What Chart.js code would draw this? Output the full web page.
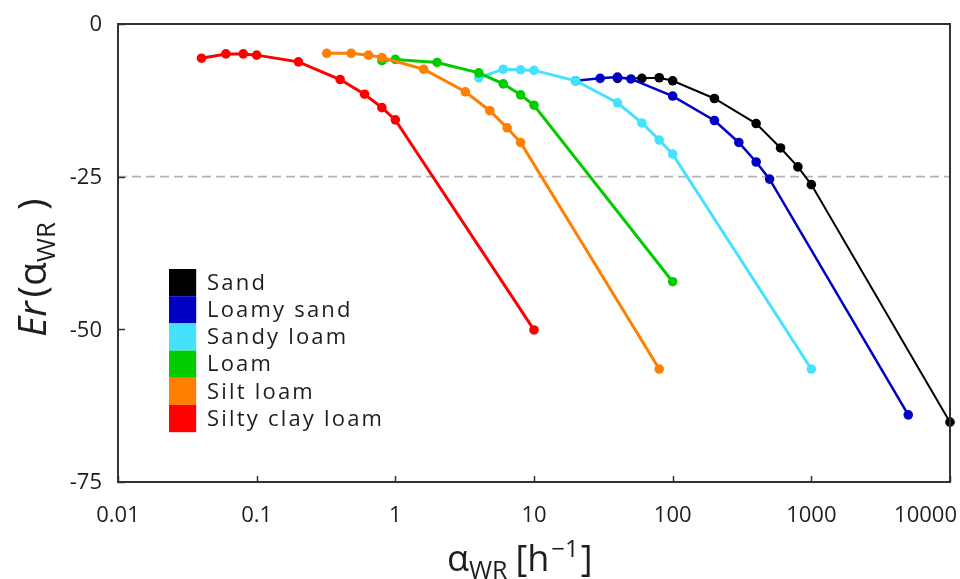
<!DOCTYPE html>
<html lang="en">
<head>
  <meta charset="UTF-8" />
  <title>Er vs alpha WR</title>
  <script src="https://cdn.jsdelivr.net/npm/chart.js"></script>
  <style>
    html, body { margin: 0; padding: 0; background: #fff; }
    canvas { display: block; }
  </style>
</head>
<body>
  <canvas id="erChart" width="960" height="579"></canvas>

  <script>
    // Valeurs (alpha_WR en h^-1, Er en %)
    const soilNames = ['Sand', 'Loamy sand', 'Sandy loam', 'Loam', 'Silt loam', 'Silty clay loam'];
    const soilColors = ['#000000', '#0000c4', '#44e2ff', '#00cc00', '#ff8000', '#ff0000'];

    const sandX = [40, 60, 80, 100, 200, 400, 600, 800, 1000, 10000];
    const sandY = [-8.9, -8.9, -8.8, -9.3, -12.2, -16.3, -20.3, -23.4, -26.3, -65.2];

    const loamySandX = [20, 30, 40, 50, 100, 200, 300, 400, 500, 5000];
    const loamySandY = [-9.3, -8.9, -8.7, -9.0, -11.8, -15.8, -19.4, -22.6, -25.4, -64.0];

    const sandyLoamX = [4, 6, 8, 10, 20, 40, 60, 80, 100, 1000];
    const sandyLoamY = [-8.8, -7.4, -7.5, -7.6, -9.3, -12.9, -16.2, -19.0, -21.3, -56.5];

    const loamX = [0.8, 1, 2, 4, 6, 8, 10, 100];
    const loamY = [-6.0, -5.8, -6.3, -8.0, -9.8, -11.6, -13.3, -42.2];

    const siltLoamX = [0.32, 0.48, 0.64, 0.8, 1.6, 3.2, 4.8, 6.4, 8, 80];
    const siltLoamY = [-4.8, -4.8, -5.1, -5.5, -7.4, -11.1, -14.2, -17.0, -19.4, -56.5];

    const siltyClayLoamX = [0.04, 0.06, 0.08, 0.1, 0.2, 0.4, 0.6, 0.8, 1, 10];
    const siltyClayLoamY = [-5.6, -4.9, -4.9, -5.1, -6.2, -9.1, -11.5, -13.7, -15.7, -50.1];

    const xTicks = [0.01, 0.1, 1, 10, 100, 1000, 10000];
    const xTickLabels = ['0.01', '0.1', '1', '10', '100', '1000', '10000'];
    const yTicks = [0, -25, -50, -75];
    const refLineY = -25;

    const seriesX = [sandX, loamySandX, sandyLoamX, loamX, siltLoamX, siltyClayLoamX];
    const seriesY = [sandY, loamySandY, sandyLoamY, loamY, siltLoamY, siltyClayLoamY];
    const lineWidths = [2, 2.5, 3, 3, 3, 3];

    const FONT = '"Open Sans", "Noto Sans", sans-serif';
    const TEXT = '#1e1e1e';

    const datasets = soilNames.map((name, i) => ({
      label: name,
      data: seriesX[i].map((x, j) => ({ x: x, y: seriesY[i][j] })),
      borderColor: soilColors[i],
      backgroundColor: soilColors[i],
      borderWidth: lineWidths[i],
      pointRadius: 4.8,
      pointBorderWidth: 0,
      tension: 0,
      clip: false,
      order: soilNames.length - i   // le rouge dessiné au-dessus
    }));

    // ligne pointillée de référence à -25
    datasets.push({
      label: 'ref',
      data: [{ x: xTicks[0], y: refLineY }, { x: xTicks[xTicks.length - 1], y: refLineY }],
      borderColor: '#b4b4b4',
      borderWidth: 1.6,
      borderDash: [9, 5],
      pointRadius: 0,
      order: 20
    });

    // Cadre, graduations internes, libellés, titres et légende
    const decorPlugin = {
      id: 'decor',
      afterDraw(chart) {
        const ctx = chart.ctx;
        const a = chart.chartArea;
        const xs = chart.scales.x, ys = chart.scales.y;
        ctx.save();

        // cadre
        ctx.strokeStyle = '#333';
        ctx.lineWidth = 2;
        ctx.strokeRect(a.left, a.top, a.right - a.left, a.bottom - a.top);

        // graduations vers l'intérieur
        ctx.lineWidth = 1.5;
        ctx.beginPath();
        xTicks.forEach(v => {
          const px = Math.round(xs.getPixelForValue(v)) + 0.5;
          ctx.moveTo(px, a.bottom);
          ctx.lineTo(px, a.bottom - 6);
        });
        yTicks.forEach(v => {
          const py = Math.round(ys.getPixelForValue(v)) + 0.5;
          ctx.moveTo(a.left, py);
          ctx.lineTo(a.left + 7, py);
        });
        ctx.stroke();

        // libellés des graduations
        ctx.fillStyle = TEXT;
        ctx.font = '22px ' + FONT;
        ctx.textBaseline = 'middle';
        ctx.textAlign = 'right';
        yTicks.forEach(v => {
          ctx.fillText(String(v), a.left - 16, ys.getPixelForValue(v) + 1);
        });
        ctx.textAlign = 'center';
        xTicks.forEach((v, i) => {
          const w = ctx.measureText(xTickLabels[i]).width;
          let cx = xs.getPixelForValue(v);
          if (cx + w / 2 > chart.width - 3) cx = chart.width - 3 - w / 2;
          ctx.fillText(xTickLabels[i], cx, a.bottom + 34);
        });

        // titre axe X : αWR [h−1]
        ctx.textAlign = 'left';
        ctx.textBaseline = 'alphabetic';
        let x = 447, base = 571;
        ctx.font = '36px ' + FONT;
        ctx.fillText('α', x, base); x += ctx.measureText('α').width;
        ctx.font = '25px ' + FONT;
        ctx.fillText('WR', x, base + 8); x += ctx.measureText('WR').width + 8;
        ctx.font = '36px ' + FONT;
        ctx.fillText('[h', x, base); x += ctx.measureText('[h').width + 2;
        ctx.font = '24px ' + FONT;
        ctx.fillText('−1', x, base - 14); x += ctx.measureText('−1').width + 2;
        ctx.font = '36px ' + FONT;
        ctx.fillText(']', x, base);

        // titre axe Y : Er(αWR )
        ctx.save();
        ctx.translate(46, 337);
        ctx.rotate(-Math.PI / 2);
        let t = 0;
        ctx.font = 'italic 39px ' + FONT;
        ctx.fillText('Er', t, 0); t += ctx.measureText('Er').width + 4;
        ctx.font = '39px ' + FONT;
        ctx.fillText('(α', t, 0); t += ctx.measureText('(α').width;
        ctx.font = '26px ' + FONT;
        ctx.fillText('WR', t, 9); t += ctx.measureText('WR').width + 12;
        ctx.font = '39px ' + FONT;
        ctx.fillText(')', t, 0);
        ctx.restore();

        // légende
        const lx = 169, ly = 269, box = 27.2;
        ctx.font = '22px ' + FONT;
        ctx.letterSpacing = '2.2px';
        ctx.textBaseline = 'middle';
        soilNames.forEach((name, i) => {
          ctx.fillStyle = soilColors[i];
          ctx.fillRect(lx, ly + i * box, box, box);
          ctx.fillStyle = TEXT;
          ctx.fillText(name, lx + 38, ly + i * box + box / 2 + 1);
        });

        ctx.restore();
      }
    };

    const chart = new Chart(document.getElementById('erChart'), {
      type: 'line',
      data: { datasets: datasets },
      options: {
        responsive: false,
        animation: false,
        events: [],
        layout: { padding: { left: 0, top: 24, right: 10, bottom: 0 } },
        plugins: { legend: { display: false }, tooltip: { enabled: false } },
        scales: {
          x: {
            type: 'logarithmic',
            min: xTicks[0],
            max: xTicks[xTicks.length - 1],
            ticks: { display: false },
            grid: { display: false },
            border: { display: false },
            afterFit(scale) { scale.height = 97; }
          },
          y: {
            type: 'linear',
            min: yTicks[yTicks.length - 1],
            max: yTicks[0],
            ticks: { display: false },
            grid: { display: false },
            border: { display: false },
            afterFit(scale) { scale.width = 118; }
          }
        }
      },
      plugins: [decorPlugin]
    });
  </script>
</body>
</html>
